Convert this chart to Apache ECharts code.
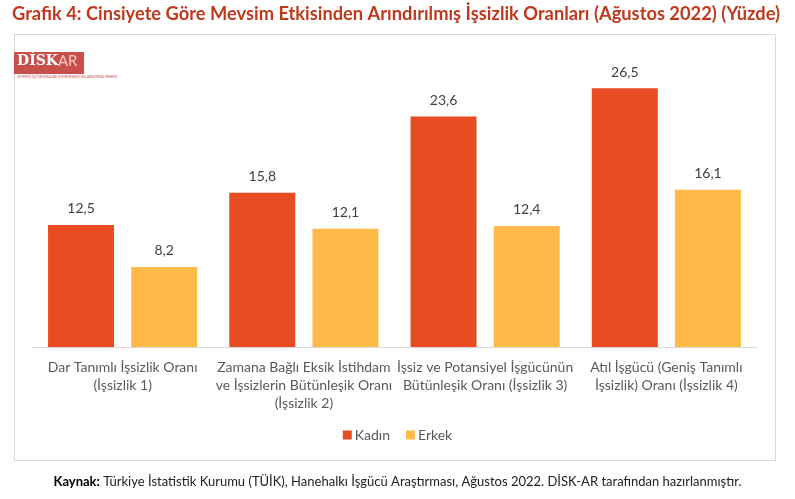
<!DOCTYPE html>
<html>
<head>
<meta charset="utf-8">
<script src="https://cdn.jsdelivr.net/npm/echarts@6/dist/echarts.min.js"></script>
<style>
  html, body { margin: 0; padding: 0; background: #fff; }
  #chart { width: 795px; height: 499px; }
</style>
</head>
<body>
<div id="chart"></div>
<script>
// kategoriler ve seriler
const categories = [
  'Dar Tanımlı İşsizlik Oranı\n(İşsizlik 1)',
  'Zamana Bağlı Eksik İstihdam\nve İşsizlerin Bütünleşik Oranı\n(İşsizlik 2)',
  'İşsiz ve Potansiyel İşgücünün\nBütünleşik Oranı (İşsizlik 3)',
  'Atıl İşgücü (Geniş Tanımlı\nİşsizlik) Oranı (İşsizlik 4)'
];
const kadin = [12.5, 15.8, 23.6, 26.5];
const erkek = [8.2, 12.1, 12.4, 16.1];

const font = 'Lato, "Open Sans", sans-serif';
const chart = echarts.init(document.getElementById('chart'));

const fmt = p => String(p.value).replace('.', ',');

const option = {
  animation: false,
  textStyle: { fontFamily: font },
  title: {
    text: 'Grafik 4: Cinsiyete Göre Mevsim Etkisinden Arındırılmış İşsizlik Oranları (Ağustos 2022) (Yüzde)',
    left: 7,
    top: 0,
    textStyle: { fontFamily: font, fontSize: 18.3, fontWeight: 'bold', color: '#BF3A1C' }
  },
  legend: {
    data: ['Kadın', 'Erkek'],
    bottom: 52,
    left: 'center',
    itemWidth: 9,
    itemHeight: 9,
    itemGap: 16,
    icon: 'rect',
    textStyle: { fontFamily: font, fontSize: 14, color: '#595959', padding: [0, 0, 0, -2] }
  },
  grid: { left: 32, right: 38, top: 54, bottom: 152 },
  xAxis: {
    type: 'category',
    data: categories,
    axisLine: { lineStyle: { color: '#D9D9D9' } },
    axisTick: { show: false },
    axisLabel: {
      interval: 0,
      margin: 11,
      lineHeight: 18,
      fontSize: 14,
      color: '#595959',
      fontFamily: font
    }
  },
  yAxis: {
    type: 'value',
    min: 0,
    max: 30,
    show: false,
    splitLine: { show: false }
  },
  series: [
    {
      name: 'Kadın',
      type: 'bar',
      data: kadin,
      barWidth: 66,
      barGap: '26%',
      itemStyle: { color: '#E84C22' },
      label: { show: true, position: 'top', distance: 9, fontSize: 14, color: '#404040', fontFamily: font, formatter: fmt }
    },
    {
      name: 'Erkek',
      type: 'bar',
      data: erkek,
      barWidth: 66,
      itemStyle: { color: '#FFBA4A' },
      label: { show: true, position: 'top', distance: 9, fontSize: 14, color: '#404040', fontFamily: font, formatter: fmt }
    }
  ],
  graphic: [
    {
      type: 'rect',
      shape: { x: 14.5, y: 34.5, width: 761, height: 426 },
      style: { fill: 'none', stroke: '#D9D9D9', lineWidth: 1 },
      z: -1
    },
    {
      type: 'rect',
      shape: { x: 14, y: 52, width: 70, height: 22 },
      style: { fill: '#C8504A' }
    },
    {
      type: 'text',
      left: 17,
      top: 54,
      style: {
        text: '{a|DİSK}{b|AR}',
        rich: {
          a: { fontFamily: 'DejaVu Serif', fontWeight: 'bold', fontSize: 14, fill: '#fff' },
          b: { fontFamily: font, fontSize: 15, fill: '#F2C9C4' }
        }
      }
    },
    {
      type: 'text',
      left: 17,
      top: 76,
      style: { text: 'DEVRİMCİ İŞÇİ SENDİKALARI KONFEDERASYONU ARAŞTIRMA MERKEZİ', fontSize: 3, fill: '#C8504A', fontFamily: font }
    },
    {
      type: 'text',
      left: 'center',
      top: 475,
      style: {
        text: '{b|Kaynak:} Türkiye İstatistik Kurumu (TÜİK), Hanehalkı İşgücü Araştırması, Ağustos 2022. DİSK-AR tarafından hazırlanmıştır.',
        fontFamily: font,
        fontSize: 13,
        fill: '#222',
        rich: { b: { fontFamily: font, fontSize: 13, fontWeight: 'bold', fill: '#000' } }
      }
    }
  ]
};

chart.setOption(option);
</script>
</body>
</html>
